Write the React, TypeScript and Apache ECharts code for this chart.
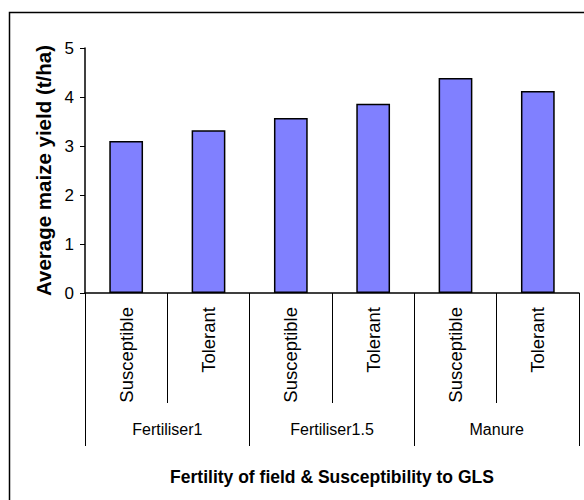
import React, { useEffect, useRef } from "react";
import * as echarts from "echarts";

const subCategories = ["Susceptible", "Tolerant", "Susceptible", "Tolerant", "Susceptible", "Tolerant"];
const groups = ["Fertiliser1", "Fertiliser1.5", "Manure"];
const yieldValues = [3.1, 3.32, 3.57, 3.86, 4.39, 4.12];
const yTitle = "Average maize yield (t/ha)";
const xTitle = "Fertility of field & Susceptibility to GLS";

export default function App() {
  const ref = useRef<HTMLDivElement>(null);
  useEffect(() => {
    if (!ref.current) return;
    const chart = echarts.init(ref.current, undefined, { renderer: "svg" });
    const font = "Arial, 'Liberation Sans', sans-serif";
    chart.setOption({
      animation: false,
      backgroundColor: "#ffffff",
      graphic: [
        {
          type: "rect",
          shape: { x: 9.5, y: 12.5, width: 620, height: 520 },
          style: { fill: "none", stroke: "#000", lineWidth: 1.5 },
          silent: true,
        },
      ],
      grid: { left: 85, right: 5, top: 48, bottom: 207, containLabel: false },
      xAxis: [
        {
          type: "category",
          data: subCategories,
          axisLine: { show: true, lineStyle: { color: "#000", width: 1.5 } },
          axisTick: { show: true, interval: 0, length: 110, lineStyle: { color: "#000", width: 1 } },
          axisLabel: {
            interval: 0,
            rotate: 90,
            margin: 14,
            color: "#000",
            fontFamily: font,
            fontSize: 18.5,
          },
        },
        {
          type: "category",
          data: groups,
          position: "bottom",
          axisLine: { show: false },
          axisTick: { show: true, interval: 0, length: 153, lineStyle: { color: "#000", width: 1 } },
          axisLabel: {
            interval: 0,
            margin: 128,
            color: "#000",
            fontFamily: font,
            fontSize: 16,
          },
          name: xTitle,
          nameLocation: "middle",
          nameGap: 175,
          nameTextStyle: { color: "#000", fontFamily: font, fontSize: 17.5, fontWeight: "bold" },
        },
      ],
      yAxis: {
        type: "value",
        min: 0,
        max: 5,
        interval: 1,
        splitLine: { show: false },
        axisLine: { show: true, lineStyle: { color: "#000", width: 1.5 } },
        axisTick: { show: true, length: 5, lineStyle: { color: "#000" } },
        axisLabel: { color: "#000", fontFamily: font, fontSize: 17, margin: 11 },
        name: yTitle,
        nameLocation: "middle",
        nameRotate: 90,
        nameGap: 31,
        nameTextStyle: { color: "#000", fontFamily: font, fontSize: 20.5, fontWeight: "bold" },
      },
      series: [
        {
          type: "bar",
          data: yieldValues,
          barWidth: "41%",
          itemStyle: { color: "#8080FF", borderColor: "#000", borderWidth: 1.5 },
        },
      ],
    });
    return () => chart.dispose();
  }, []);
  return (
    <div
      ref={ref}
      style={{ position: "fixed", left: 0, top: 0, width: 584, height: 500 }}
    />
  );
}
